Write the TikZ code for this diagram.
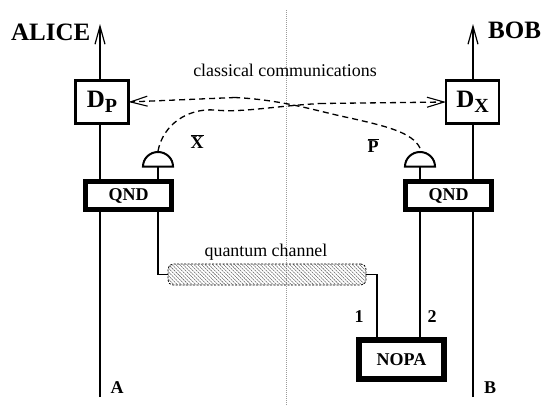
\documentclass[tikz,border=0pt]{standalone}
\usepackage{fontspec}
\setmainfont{Liberation Serif}
\usetikzlibrary{arrows.meta,patterns.meta,positioning}
\tikzset{
  wire/.style={line width=1.3pt,draw=black},
  upwire/.style={wire,-{Straight Barb[length=18pt,width=10pt,line width=1.2pt]}},
  detbox/.style={draw,line width=2.5pt,fill=white,outer sep=0pt,inner sep=0pt,minimum width=53pt,minimum height=43pt,font=\fontsize{25}{27}\selectfont\bfseries},
  qndbox/.style={draw,line width=4.5pt,fill=white,outer sep=0pt,inner sep=0pt,minimum width=86pt,minimum height=28pt,font=\fontsize{18}{20}\selectfont\bfseries},
  nopabox/.style={draw,line width=6pt,fill=white,outer sep=0pt,inner sep=0pt,minimum width=85pt,minimum height=39pt,font=\fontsize{18}{20}\selectfont\bfseries},
  channel/.style={draw,dashed,dash pattern=on 2pt off 1.5pt,line width=0.8pt,rounded corners=5pt,outer sep=0pt,minimum width=198pt,minimum height=21pt,inner sep=0pt,
    pattern={Lines[angle=-45,distance=2.6pt,line width=0.55pt]},pattern color=black!60},
  comm/.style={line width=1.3pt,dash pattern=on 6pt off 4pt},
  commtip/.style={comm,-{Straight Barb[length=17pt,width=10pt,line width=1.1pt]}},
  lab/.style={inner sep=0pt,font=\fontsize{25}{27}\selectfont\bfseries},
  small/.style={inner sep=0pt,font=\fontsize{17.9}{19}\selectfont},
  smallb/.style={inner sep=0pt,font=\fontsize{18}{20}\selectfont\bfseries},
  meas/.style={line width=2pt,fill=white},
}
\newcommand{\subb}[1]{\raisebox{-5pt}{\fontsize{20}{21}\selectfont #1}}
\newcommand{\barb}[1]{$\overline{\hbox{\bfseries #1}}$}
\begin{document}
\begin{tikzpicture}[x=1pt,y=-1pt]
\useasboundingbox (0,0) rectangle (549,405);
% divider
\coordinate (divtop) at (286.5,10);
\coordinate (divbot) at (286.5,405);
\draw[line width=1pt,black!40,dash pattern=on 1pt off 1pt] (divtop) -- (divbot);
% end points
\coordinate (alicetop) at (100,24);
\coordinate (alicebot) at (100,397);
\coordinate (bobtop) at (473,24);
\coordinate (bobbot) at (473,397);
\draw[upwire] (alicebot) -- (alicetop);
\draw[upwire] (bobbot) -- (bobtop);
% boxes
\node[detbox] (dp) at (102,102) {D\subb{P}};
\node[detbox] (dx) at (472.5,102) {D\subb{X}};
\node[qndbox] (qa) at (128.7,195.5) {QND};
\node[qndbox] (qb) at (448.5,195.5) {QND};
\node[nopabox] (nopa) at (401.5,359.5) {NOPA};
\node[channel] (chan) at (267,274.5) {};
% detectors
\coordinate (da) at (158,166.5);
\coordinate (db) at (420,166.5);
\coordinate (dta) at (158,151);
\coordinate (dtb) at (420,148);
\draw[wire] (da) -- (da |- qa.north);
\draw[wire] (db) -- (db |- qb.north);
\draw[meas] (143,166.5) arc[start angle=180,end angle=360,x radius=15,y radius=14.5] -- cycle;
\draw[meas] (405,166.5) arc[start angle=180,end angle=360,x radius=15,y radius=14.5] -- cycle;
% quantum wires
\draw[wire] (158,211) |- (chan.west);
\draw[wire] (chan.east) -| (377,337);
\draw[wire] (420,211) -- (420,337);
% classical communications
\draw[comm] (dta) .. controls (163,125) and (187,108) .. (215,110)
  .. controls (240,113) and (275,106) .. (320,103.5);
\draw[commtip] (320,103.5) -- (dx.west);
\draw[comm] (dtb) .. controls (412,132) and (385,126) .. (350,118)
  .. controls (320,112) and (285,100) .. (235,97.5);
\draw[commtip] (235,97.5) -- (dp.east);
% labels
\node[lab,anchor=base west] (alice) at (11,40.5) {ALICE};
\node[lab,anchor=base west] (bob) at (488,38) {BOB};
\node[small,anchor=base] (cc) at (285,76) {classical communications};
\node[small,anchor=base] (qc) at (266,256) {quantum channel};
\node[smallb,anchor=base] (xb) at (197,148) {\barb{X}};
\node[smallb,anchor=base] (pb) at (373,152) {\barb{P}};
\node[smallb,anchor=base] (one) at (359,322) {1};
\node[smallb,anchor=base] (two) at (432,322) {2};
\node[smallb,anchor=base] (a) at (117,393) {A};
\node[smallb,anchor=base] (b) at (490,393) {B};
\end{tikzpicture}
\end{document}
